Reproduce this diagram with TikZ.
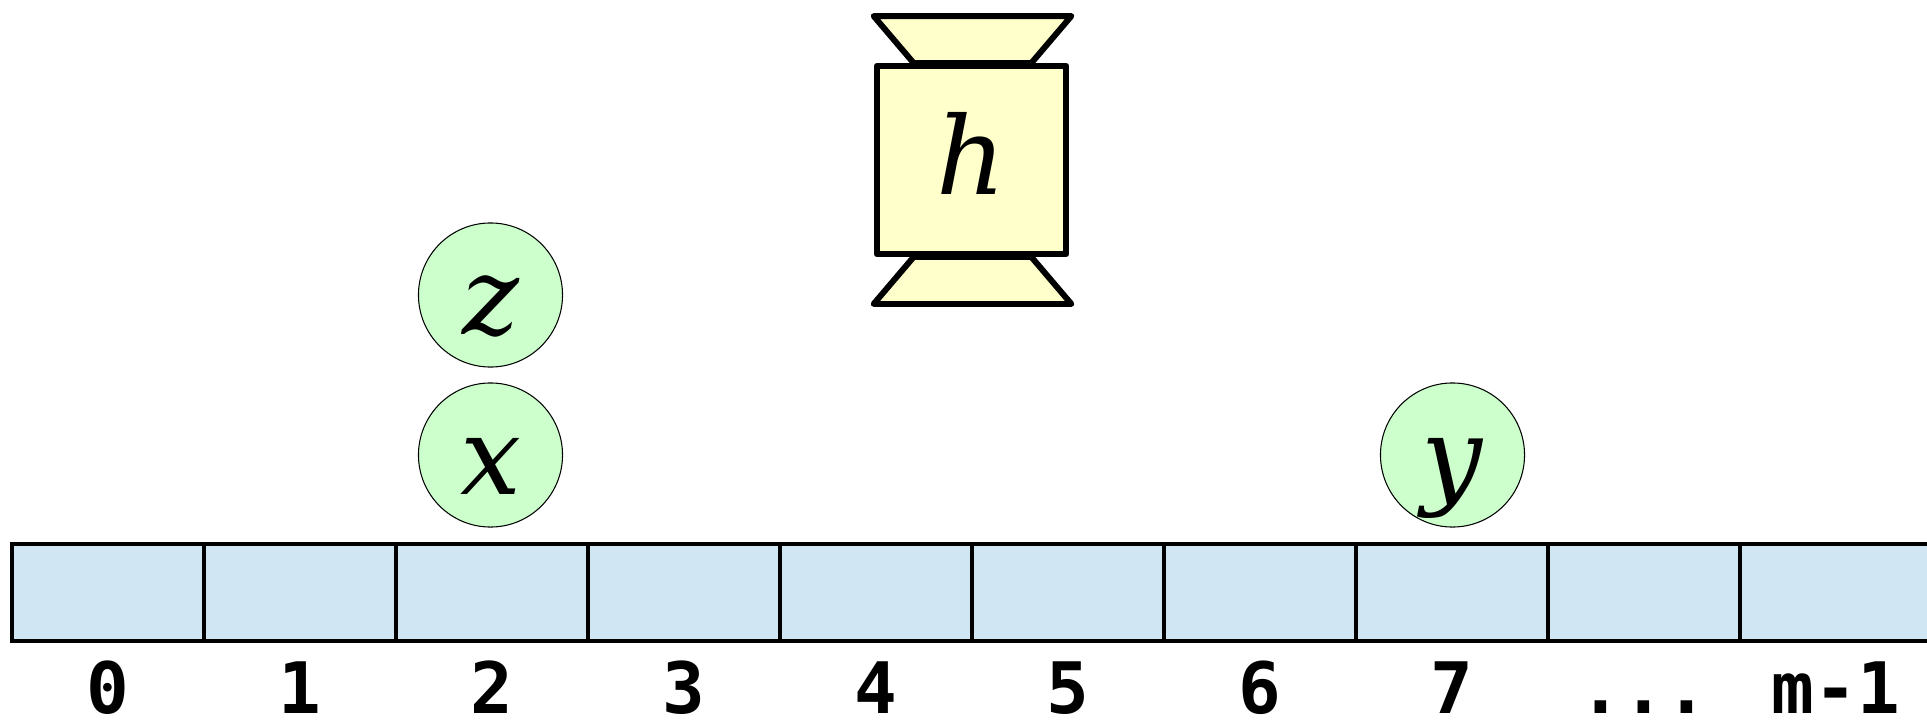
\documentclass[tikz,border=0pt]{standalone}
\usepackage{fontspec}
\setmainfont{DejaVu Serif}
\newfontfamily\monofont{DejaVu Sans Mono}
\newfontfamily\letterfont{DejaVu Serif}
\usetikzlibrary{calc}
\definecolor{cellblue}{RGB}{208,230,243}
\definecolor{ballgreen}{RGB}{204,255,204}
\definecolor{hashyellow}{RGB}{255,255,204}
\tikzset{
  cellbox/.style={draw=black, fill=cellblue, line width=2pt, minimum width=109.3pt, minimum height=55.2pt, inner sep=0pt, outer sep=0pt},
  idxlabel/.style={anchor=base, inner sep=0pt, font=\monofont\bfseries\fontsize{40.4pt}{48pt}\selectfont},
  ball/.style={circle, draw=black, fill=ballgreen, line width=0.6pt, minimum size=82pt, inner sep=0pt, text height=44.4pt, text depth=0pt, font=\letterfont\itshape\fontsize{61.5pt}{70pt}\selectfont},
  hashbox/.style={draw=black, fill=hashyellow, line width=3.4pt, line join=round, minimum width=108pt, minimum height=107pt, inner sep=0pt, text height=39.8pt, text depth=0pt, font=\letterfont\itshape\fontsize{61.5pt}{70pt}\selectfont},
  hashcap/.style={draw=black, fill=hashyellow, line width=3.4pt, line join=round}
}
\begin{document}
\begin{tikzpicture}[x=0.02cm, y=-0.02cm]
\useasboundingbox (0,0) rectangle (1927,720);
% array cells
\foreach \i in {0,...,9} {
  \node[cellbox] (c\i) at ({108+192*\i},592.5) {};
}
\foreach \i/\t in {0/0,1/1,2/2,3/3,4/4,5/5,6/6,7/7,8/{...},9/{m-1}} {
  \node[idxlabel] (l\i) at ($(c\i.center)+(0,121)$) {\t};
}
% hash function box
\node[hashbox] (h) at (971.5,160) {h};
\draw[hashcap] ($(h.north west)+(40,0)$) -- ($(h.north west)+(0,-47)$) -- ($(h.north east)+(2,-47)$) -- ($(h.north east)+(-38,0)$) -- cycle;
\draw[hashcap] ($(h.south west)+(40,0)$) -- ($(h.south west)+(0,47)$) -- ($(h.south east)+(2,47)$) -- ($(h.south east)+(-38,0)$) -- cycle;
% balls
\node[ball] (z) at (490.5,295) {z};
\node[ball] (x) at (490.5,455) {x};
\node[ball] (y) at (1452.5,455) {y};
\end{tikzpicture}
\end{document}
